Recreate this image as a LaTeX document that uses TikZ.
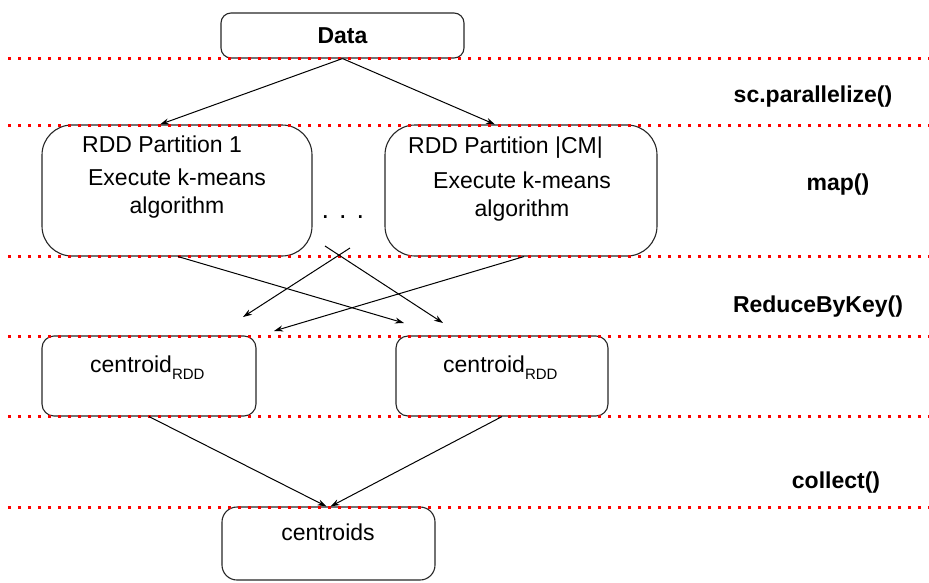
\documentclass[tikz,border=0pt]{standalone}
\usepackage{fontspec}
\setmainfont{Liberation Sans}
\usetikzlibrary{arrows.meta,calc}
\begin{document}
\begin{tikzpicture}[x=1pt,y=-1pt,
  box/.style={draw=black!85, line width=1.1pt, inner sep=0pt},
  txt/.style={font=\fontsize{23}{28}\selectfont, inner sep=0pt},
  op/.style={font=\fontsize{23}{28}\selectfont\bfseries, inner sep=0pt, anchor=base},
  sep/.style={draw=red, line width=3pt, dash pattern=on 3pt off 7pt},
  flow/.style={draw=black, line width=1pt, -{Stealth[length=9pt,width=6pt]}}]
\useasboundingbox (0,0) rectangle (929,582);

% input data
\node[box, rounded corners=10pt, minimum width=243pt, minimum height=45pt,
      font=\fontsize{23}{28}\selectfont\bfseries] (data) at (342.5,35.5) {Data};

% partitions
\node[box, rounded corners=30pt, minimum width=270pt, minimum height=131pt] (p1) at (177,190.5) {};
\node[txt, anchor=base west] (p1title) at (82,152) {RDD Partition 1};
\node[txt, anchor=base] (p1exec) at (177,185) {Execute k-means};
\node[txt, anchor=base] (p1alg) at (177,213) {algorithm};

\node[box, rounded corners=30pt, minimum width=272pt, minimum height=131pt] (p2) at (521,190.5) {};
\node[txt, anchor=base west] (p2title) at (408,153) {RDD Partition |CM|};
\node[txt, anchor=base] (p2exec) at (522,188) {Execute k-means};
\node[txt, anchor=base] (p2alg) at (522,216) {algorithm};

\node[font=\fontsize{27}{30}\selectfont, inner sep=0pt, anchor=base] (dots) at (343,218) {. . .};

% per-partition centroids
\node[box, rounded corners=12pt, minimum width=214pt, minimum height=80pt] (c1) at (149,376) {};
\node[txt, anchor=base west] (c1t) at (90,372) {centroid\raisebox{-7pt}{\fontsize{15}{18}\selectfont RDD}};
\node[box, rounded corners=12pt, minimum width=212pt, minimum height=80pt] (c2) at (502,376) {};
\node[txt, anchor=base west] (c2t) at (443,372) {centroid\raisebox{-7pt}{\fontsize{15}{18}\selectfont RDD}};

% final result
\node[box, rounded corners=15pt, minimum width=213pt, minimum height=73pt] (cs) at (328.5,543.5) {};
\node[txt, anchor=base] (cst) at (328,540) {centroids};

% stage separators
\foreach \yy in {58,125,256,336,416,507}
  \draw[sep] (8,\yy) -- (929,\yy);

% stage names
\node[op] (opPar) at (813,102) {sc.parallelize()};
\node[op] (opMap) at (838,190) {map()};
\node[op] (opRed) at (818,312) {ReduceByKey()};
\node[op] (opCol) at (836,488) {collect()};

% parallelize
\draw[flow] (data.south) -- ([xshift=-17pt]p1.north);
\draw[flow] (data.south) -- ([xshift=-26pt]p2.north);

% shuffle by key
\coordinate (r1) at (404,323);
\coordinate (r2) at (274,331);
\coordinate (x1) at (350,248);
\coordinate (x1e) at (243,317);
\coordinate (x2) at (325,246);
\coordinate (x2e) at (443,323);
\draw[flow] ([xshift=1pt]p1.south) -- (r1);
\draw[flow] ([xshift=3pt]p2.south) -- (r2);
\draw[flow] (x1) -- (x1e);
\draw[flow] (x2) -- (x2e);

% collect
\draw[flow] (c1.south) -- ([xshift=-2pt]cs.north);
\draw[flow] (c2.south) -- ([xshift=2pt]cs.north);
\end{tikzpicture}
\end{document}
